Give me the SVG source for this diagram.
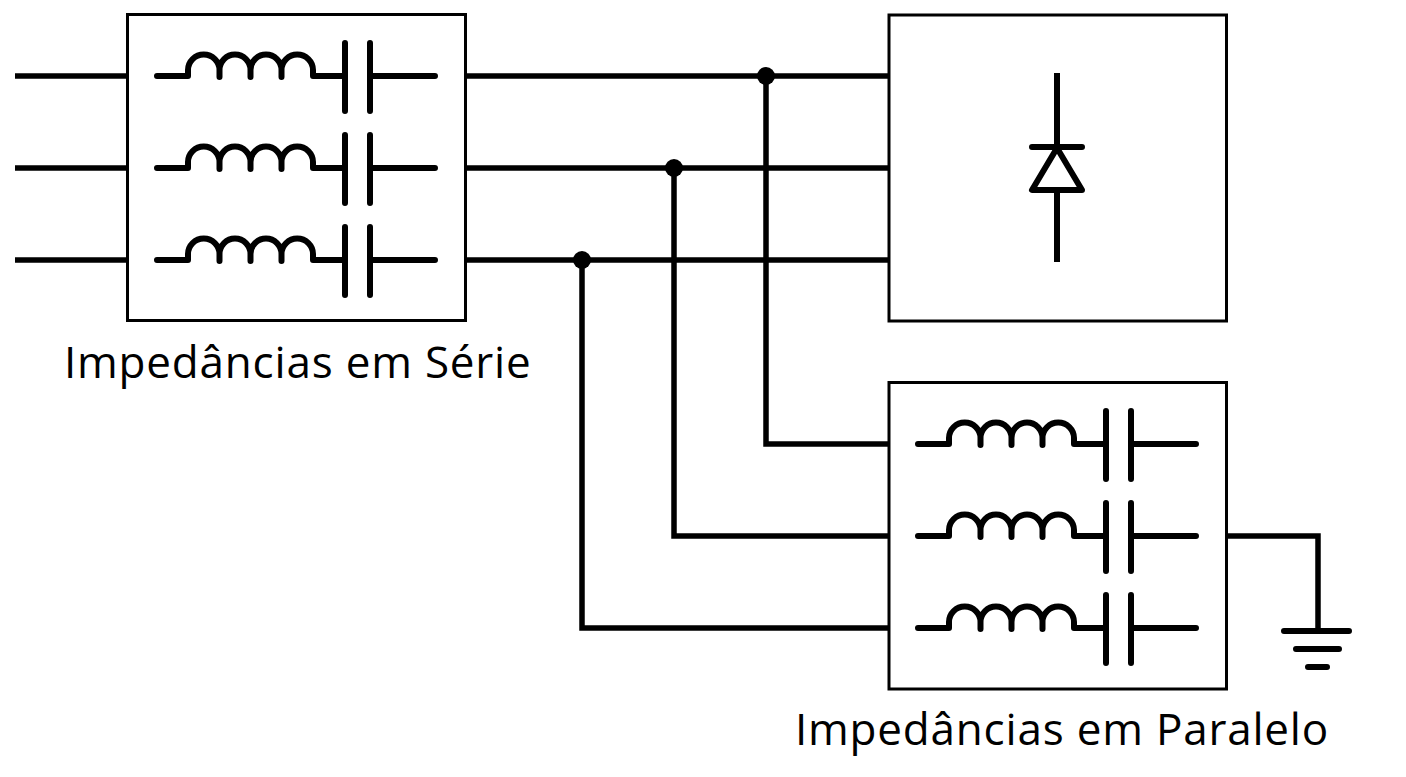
<svg xmlns="http://www.w3.org/2000/svg" xmlns:xlink="http://www.w3.org/1999/xlink" width="1406" height="777" viewBox="0 0 1406 777">
<style>
.box{fill:#fff;stroke:#000;stroke-width:3}
.w{fill:none;stroke:#000;stroke-width:5.500;stroke-linecap:butt;stroke-linejoin:miter}
.c{fill:none;stroke:#000;stroke-width:6;stroke-linecap:round;stroke-linejoin:round}
.dot{fill:#000}
text{font-family:"Open Sans","Noto Sans","Liberation Sans",sans-serif;font-size:44px;letter-spacing:.8px;fill:#000}
</style>
<defs>
<g id="lc"><path class="c" d="M157 76H188V70A15.750 15.500 0 0 1 219.500 70V77M219.500 70A15.500 15.500 0 0 1 250.500 70V77M250.500 70A15.500 15.500 0 0 1 281.500 70V77M281.500 70A15.750 15.500 0 0 1 313 70V76H345"/><path class="c" d="M345 43V111M370 43V111M370 76H435"/></g>
</defs>
<rect width="1406" height="777" fill="#fff"/>
<g id="connectors">
<path class="w" d="M15 76H127M15 168H127M15 260H127"/>
<path class="w" d="M466 76H889M466 168H889M466 260H889"/>
<path class="w" d="M766 76V444H889M674 168V536H889M582 260V628H889"/>
<path class="w" d="M1227 536H1318V629"/>
<circle class="dot" cx="766" cy="76" r="9"/><circle class="dot" cx="674" cy="168" r="9"/><circle class="dot" cx="582" cy="260" r="9"/>
</g>
<g id="serie">
<rect class="box" x="127.500" y="14.500" width="338" height="306"/>
<use xlink:href="#lc" href="#lc"/><use xlink:href="#lc" href="#lc" y="92"/><use xlink:href="#lc" href="#lc" y="184"/>
<text x="64" y="378">Impedâncias em Série</text>
</g>
<g id="retificador">
<rect class="box" x="889" y="15" width="337.500" height="306"/>
<path class="c" style="stroke-linecap:butt" d="M1057 73V147M1057 190V262"/>
<path class="c" d="M1032 147H1082M1057 148L1032 190H1082Z"/>
</g>
<g id="paralelo">
<rect class="box" x="889" y="382.500" width="337.500" height="306.500"/>
<g transform="translate(761 368)"><use xlink:href="#lc" href="#lc"/><use xlink:href="#lc" href="#lc" y="92"/><use xlink:href="#lc" href="#lc" y="184"/></g>
<text x="795" y="745">Impedâncias em Paralelo</text>
</g>
<g id="terra">
<path class="c" d="M1284 631H1349M1296 649H1339M1308 667H1327"/>
</g>
</svg>
